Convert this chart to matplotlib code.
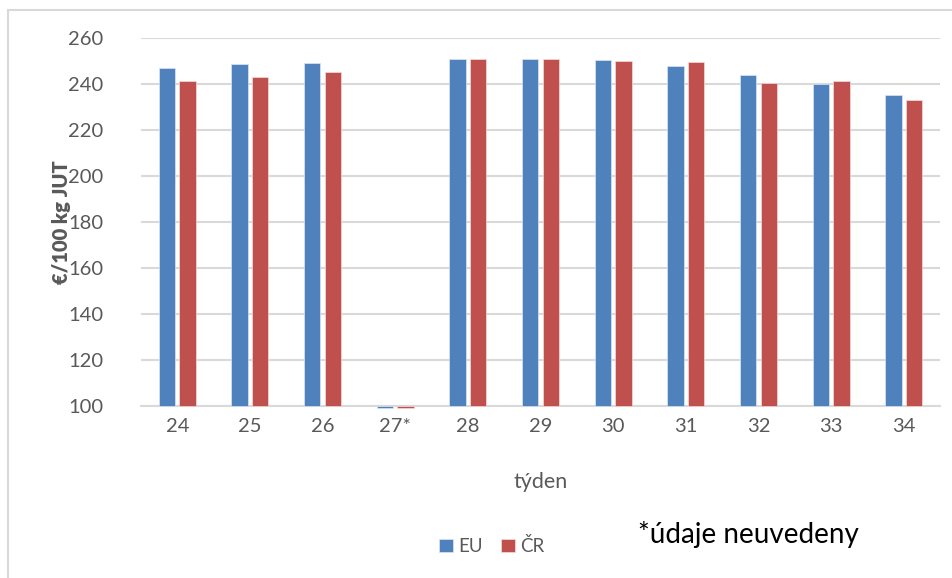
import numpy as np
import matplotlib.pyplot as plt
from matplotlib.patches import Rectangle

tydny = ['24', '25', '26', '27*', '28', '29', '30', '31', '32', '33', '34']
eu = [247.1, 248.6, 249.3, 99.1, 250.8, 250.8, 250.4, 247.9, 244.0, 239.8, 235.2]
cr = [241.4, 243.0, 245.4, 99.1, 251.0, 250.8, 249.8, 249.6, 240.4, 241.1, 232.9]

plt.rcParams['font.family'] = ['Lato', 'DejaVu Sans']

fig = plt.figure(figsize=(9.53, 5.78), dpi=100)
ax = fig.add_axes([141 / 953, 1 - 406 / 578, (940 - 141) / 953, (406 - 38) / 578])

# ramecek grafu (jen levy a horni okraj je videt)
fig.patches.append(Rectangle((8 / 953, -0.1), 1.2, 1 - 10 / 578 + 0.1, transform=fig.transFigure,
                             fill=False, edgecolor='#D9D9D9', linewidth=1.5))

x = np.arange(len(tydny))
w = 0.225
ax.bar(x - w / 2 - 0.03, np.array(eu) - 100, bottom=100, width=w, color='#4F81BD',
       edgecolor='#DCE6F2', linewidth=0.5, label='EU', clip_on=False, zorder=3)
ax.bar(x + w / 2 + 0.03, np.array(cr) - 100, bottom=100, width=w, color='#C0504D',
       edgecolor='#F2DCDB', linewidth=0.5, label='ČR', clip_on=False, zorder=3)

ax.set_ylim(100, 260)
ax.set_xlim(-0.5, len(tydny) - 0.5)
ax.set_yticks(range(100, 261, 20))
ax.set_xticks(x)
ax.set_xticklabels(tydny)
ax.grid(axis='y', color='#D9D9D9', linewidth=1.5, zorder=0)
ax.set_axisbelow(True)
for s in ['top', 'right', 'left']:
    ax.spines[s].set_visible(False)
ax.spines['bottom'].set_color('#D9D9D9')
ax.spines['bottom'].set_linewidth(1.5)
ax.tick_params(axis='both', length=0, labelsize=14.5, labelcolor='#595959')
ax.tick_params(axis='y', pad=27)
ax.tick_params(axis='x', pad=9)

ax.set_ylabel('€/100 kg JUT', fontsize=14.5, fontweight='heavy', color='#595959')
ax.yaxis.set_label_coords(-0.088, 0.5)
ax.set_xlabel('týden', fontsize=15.5, color='#595959', labelpad=26)

fig.legend(loc='center', bbox_to_anchor=(492 / 953, 1 - 546 / 578), ncol=2, frameon=False,
           fontsize=13.5, handlelength=0.7, handleheight=0.7, handletextpad=0.3, columnspacing=1.0,
           labelcolor='#595959')
fig.text(638 / 953, 1 - 535 / 578, '*údaje neuvedeny', fontsize=20, va='center', ha='left')

fig.savefig('out.png', dpi=100)
